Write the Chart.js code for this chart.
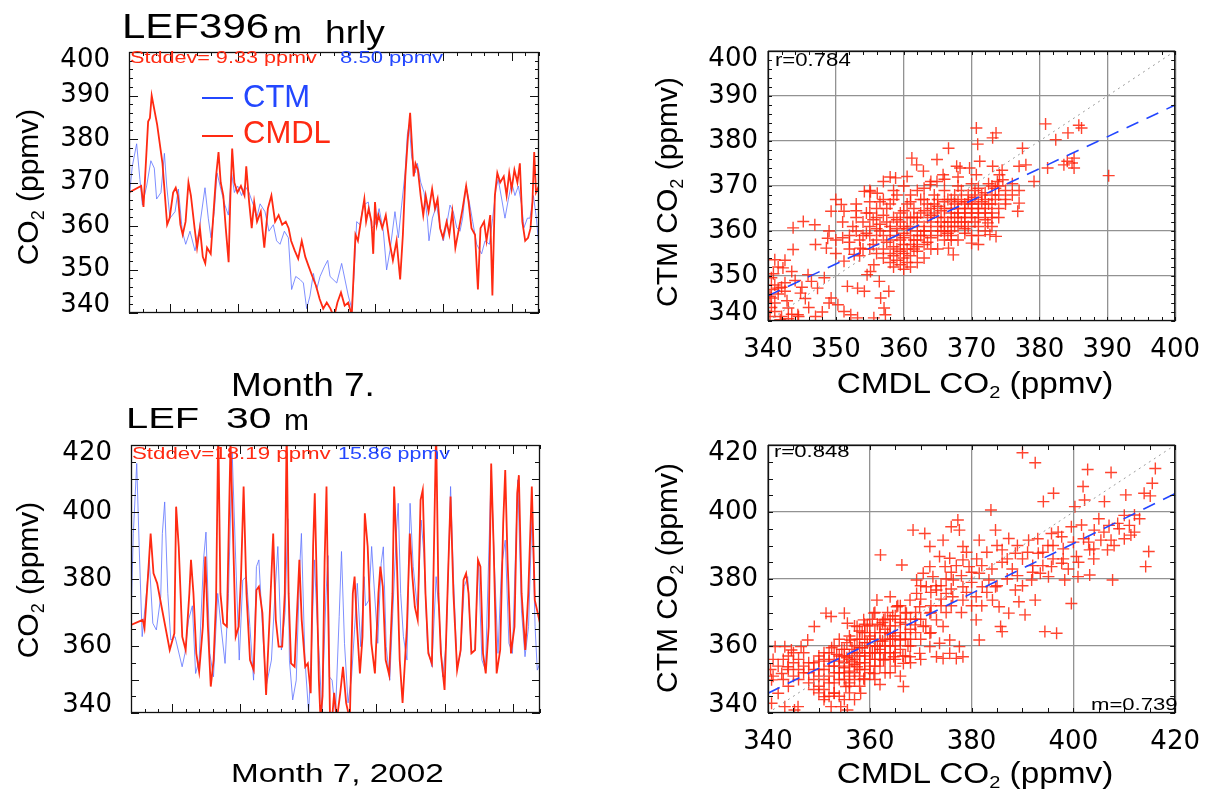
<!DOCTYPE html>
<html>
<head>
<meta charset="utf-8">
<script src="https://cdn.jsdelivr.net/npm/chart.js@4.4.1/dist/chart.umd.min.js"></script>
<style>
  body { margin: 0; background: #fff; width: 1214px; height: 794px; position: relative; overflow: hidden;
         font-family: 'Liberation Sans', Arial, sans-serif; color: #000; }
  canvas { position: absolute; }
  .t { position: absolute; white-space: nowrap; line-height: 1; transform-origin: 0 0; }
  .c { position: absolute; white-space: nowrap; line-height: 1; }
  .rot { position: absolute; white-space: nowrap; line-height: 1; font-size: 30px;
         transform: translate(-50%, -50%) rotate(-90deg); }
  .s { font-size: 60%; vertical-align: -0.28em; }
  .red { color: #ff2a12; }
  .blue { color: #2347ff; }
  .dash { position: absolute; height: 2px; width: 31px; }
</style>
</head>
<body>
<canvas id="cTL" width="560" height="340" style="left:0;top:0"></canvas>
<canvas id="cBL" width="560" height="400" style="left:0;top:360px"></canvas>
<canvas id="cTR" width="614" height="400" style="left:600px;top:0"></canvas>
<canvas id="cBR" width="614" height="394" style="left:600px;top:400px"></canvas>

<!-- top left titles -->
<div class="t" style="left:122px;top:8.4px;font-size:35px;transform:scaleX(1.2)">LEF396</div>
<div class="t" style="left:273px;top:16.8px;font-size:31px;transform:scaleX(1.12)">m</div>
<div class="t" style="left:325px;top:16.8px;font-size:31px;transform:scaleX(1.2)">hrly</div>
<div class="t red" style="left:130px;top:49.6px;font-size:16px;transform:scaleX(1.35)">Stddev= 9.33 ppmv</div>
<div class="t blue" style="left:340px;top:49.6px;font-size:16px;transform:scaleX(1.38)">8.50 ppmv</div>
<div class="dash" style="left:202px;top:97px;background:#2347ff"></div>
<div class="t blue" style="left:243px;top:80.8px;font-size:31px">CTM</div>
<div class="dash" style="left:202px;top:135px;background:#ff2a12"></div>
<div class="t red" style="left:243px;top:116.8px;font-size:31px">CMDL</div>
<div class="rot" style="left:30px;top:187px">CO<span class="s">2</span> (ppmv)</div>

<!-- bottom left titles -->
<div class="t" style="left:231px;top:368.1px;font-size:33px;transform:scaleX(1.12)">Month 7.</div>
<div class="t" style="left:126px;top:402.6px;font-size:30px;transform:scaleX(1.33)">LEF</div>
<div class="t" style="left:226px;top:402.6px;font-size:30px;transform:scaleX(1.36)">30</div>
<div class="t" style="left:284px;top:404.6px;font-size:30px">m</div>
<div class="t red" style="left:132px;top:445px;font-size:17px;transform:scaleX(1.31)">Stddev=18.19 ppmv</div>
<div class="t blue" style="left:338px;top:445px;font-size:17px;transform:scaleX(1.26)">15.86 ppmv</div>
<div class="rot" style="left:30px;top:580px">CO<span class="s">2</span> (ppmv)</div>
<div class="t" style="left:231px;top:760px;font-size:26px;transform:scaleX(1.28)">Month 7, 2002</div>

<!-- scatter titles -->
<div class="t" style="left:775px;top:51px;font-size:18px;transform:scaleX(1.23)">r=0.784</div>
<div class="rot" style="left:669px;top:192px">CTM CO<span class="s">2</span> (ppmv)</div>
<div class="c" style="left:975px;top:368.5px;font-size:29px;transform:translateX(-50%) scaleX(1.15)">CMDL CO<span class="s">2</span> (ppmv)</div>
<div class="t" style="left:774px;top:442.9px;font-size:17px;transform:scaleX(1.3)">r=0.848</div>
<div class="t" style="left:1091px;top:696.3px;font-size:17px;transform:scaleX(1.3)">m=0.739</div>
<div class="rot" style="left:669px;top:578px">CTM CO<span class="s">2</span> (ppmv)</div>
<div class="c" style="left:975px;top:758.5px;font-size:29px;transform:translateX(-50%) scaleX(1.15)">CMDL CO<span class="s">2</span> (ppmv)</div>

<script>
// hourly CO2 at LEF, July 2002 — [day, ppmv] vertices
const cmdlTop = [[0,367.7],[0.89,369.2],[1.06,364.4],[1.4,384],[1.53,384.8],[1.66,390],[2.06,383.3],[2.45,374.4],[2.79,360.3],[2.97,361.8],[3.23,367.7],[3.42,368.8],[3.58,367],[3.76,360.3],[3.93,358],[4.14,361],[4.35,370],[4.53,367],[4.8,359.5],[4.98,355],[5.19,359.5],[5.4,352.9],[5.58,351.4],[5.71,355],[5.98,353.6],[6.19,363.3],[6.37,371.4],[6.55,377],[6.71,370],[6.9,367],[7.08,359.5],[7.29,351.7],[7.42,367],[7.55,377.8],[7.71,370],[7.93,367.7],[8.19,369.2],[8.45,367],[8.58,373.7],[8.79,365.5],[8.98,359.5],[9.16,365.5],[9.37,361],[9.64,363.3],[9.9,355],[10.16,364],[10.42,367],[10.69,361],[10.95,362.5],[11.21,360.3],[11.47,361],[11.68,359.5],[11.86,356.6],[12.12,354.4],[12.38,352.5],[12.64,356.6],[12.9,352.9],[13.16,350.6],[13.42,348.4],[13.69,346.2],[13.95,343.2],[14.21,341],[14.47,342.4],[14.74,341],[15.0,339],[15.25,342.4],[15.51,344.7],[15.78,341.7],[16.04,342.4],[16.3,339.5],[16.43,348.4],[16.57,358],[16.75,356.6],[16.96,361],[17.22,366.2],[17.35,361],[17.54,364],[17.74,361],[17.87,353.6],[18.0,365.5],[18.13,360.3],[18.26,362.5],[18.53,359.5],[18.79,362.5],[19.05,356.6],[19.31,352.1],[19.58,356.6],[19.84,347.7],[20.04,358],[20.22,371.4],[20.41,380.4],[20.57,386],[20.7,378.9],[20.83,371.4],[20.96,374.4],[21.14,372.9],[21.34,367],[21.53,362.5],[21.71,367],[21.92,363.3],[22.18,368.5],[22.39,364],[22.58,366.2],[22.76,359.5],[22.97,357.3],[23.24,361],[23.44,358],[23.66,363.3],[23.88,355],[24.15,359.5],[24.41,364],[24.67,369.2],[24.85,365.5],[25.06,359.5],[25.32,358],[25.53,345.4],[25.72,359.5],[25.98,361],[26.16,356.6],[26.43,362.5],[26.59,344],[26.77,367],[26.95,372.2],[27.16,370],[27.42,371.4],[27.63,367],[27.82,372.2],[28.0,368.5],[28.2,372.9],[28.42,370],[28.6,374.4],[28.78,361],[28.99,356.6],[29.2,357.3],[29.38,359.5],[29.52,365.5],[29.65,377],[29.78,367.7],[30,369.2]];

const ctmTop = [[0,366],[0.24,373.7],[0.56,378.9],[0.8,370.7],[0.98,364.8],[1.29,369.2],[1.6,375],[1.85,373.3],[2.02,366.2],[2.34,367.7],[2.59,376.7],[2.76,369.2],[3.0,361.8],[3.37,363.3],[3.61,368.5],[3.9,358.8],[4.15,355.8],[4.46,358.8],[4.83,354.3],[5.12,358.8],[5.56,368.8],[5.8,361.8],[6.0,357.3],[6.24,363.3],[6.44,372.2],[6.78,367.7],[7.02,364.8],[7.27,362.5],[7.51,372.2],[7.71,367.7],[7.95,369.2],[8.24,367],[8.49,369.2],[8.78,367.7],[9.1,364.8],[9.34,361.8],[9.59,365.1],[9.95,363.3],[10.24,358.8],[10.56,360.3],[10.8,356.6],[11.05,355.8],[11.37,358.8],[11.66,357.3],[11.9,345.4],[12.2,348.4],[12.51,347.7],[12.76,346.9],[13.0,341],[13.24,343.9],[13.49,349.1],[13.73,345.4],[13.98,348.4],[14.29,350.6],[14.54,352.1],[14.71,348.4],[15.2,346.9],[15.56,351.4],[16.05,343.9],[16.3,341],[16.46,348.4],[16.66,361],[16.9,360.3],[17.15,364.8],[17.51,365.5],[17.76,359.5],[18.0,360.3],[18.3,364],[18.61,358.8],[18.85,349.9],[19.1,354.4],[19.46,363.3],[19.71,357.3],[19.95,364.8],[20.2,372.2],[20.37,381.1],[20.51,383.3],[20.68,375.9],[20.93,372.2],[21.1,374.4],[21.35,370],[21.59,367.7],[21.83,361.8],[21.95,356.6],[22.2,361.8],[22.51,364.8],[22.75,360],[23.0,356.6],[23.24,360.3],[23.49,364.8],[23.73,363.3],[23.98,359.6],[24.22,358.8],[24.41,361.8],[24.66,369.2],[24.9,365.5],[25.15,361],[25.44,355.8],[25.8,353.6],[26.05,356.6],[26.37,355.8],[26.61,361.8],[26.85,368.5],[27.02,370.7],[27.27,366.2],[27.51,361.8],[27.75,366],[28.0,370],[28.24,367],[28.49,369.2],[28.73,364.8],[28.9,359.6],[29.15,361.8],[29.34,361.8],[29.59,367],[29.8,362],[30,355]];

const cmdlBot = [[0,366.3],[0.86,367.8],[0.99,365.3],[1.26,381.7],[1.44,393.6],[1.65,381.7],[1.92,378.7],[2.84,358.8],[3.18,363.8],[3.31,401.6],[3.5,389.7],[3.76,362.8],[4.01,358.8],[4.28,375.7],[4.4,385.7],[4.58,375.7],[4.79,357.8],[5.0,352.3],[5.27,365.8],[5.45,386.7],[5.64,365.8],[5.85,347.9],[6.06,355.8],[6.24,373.7],[6.4,425],[6.56,375.7],[6.77,366.8],[7.03,365.8],[7.3,421],[7.47,395.6],[7.68,362.8],[7.9,365.8],[8.07,380.7],[8.26,407.6],[8.47,375.7],[8.73,355.8],[9.0,352.8],[9.2,376.7],[9.38,377.7],[9.64,369.8],[9.91,345.4],[10.17,368.8],[10.43,393.6],[10.62,367.8],[10.83,359.8],[11.09,359.8],[11.28,375.7],[11.42,425],[11.56,375.7],[11.74,354.8],[12.0,353.8],[12.35,385.7],[12.52,367.8],[12.78,353.8],[12.97,354.8],[13.18,345.9],[13.36,390],[13.48,405.6],[13.62,380],[13.78,350],[13.9,338],[14.05,345],[14.2,385],[14.34,407.6],[14.45,375],[14.6,338],[14.75,338],[14.9,346],[15.1,338],[15.35,346],[15.55,353.8],[15.78,343],[16.05,338],[16.27,375.7],[16.4,380.7],[16.58,365.8],[16.79,351.8],[16.98,362.8],[17.15,399.6],[17.36,389.7],[17.63,360.8],[17.89,351.8],[18.15,375.7],[18.29,383.7],[18.47,377.7],[18.68,355.8],[18.94,351.3],[19.18,375.7],[19.3,407.6],[19.5,385.7],[19.71,355.8],[19.92,343],[20.24,365.8],[20.45,393.6],[20.64,380.7],[20.82,371.7],[21.03,367.8],[21.24,403.6],[21.4,406.6],[21.6,375.7],[21.81,357.8],[22.07,354.8],[22.38,425],[22.55,375.7],[22.73,357.8],[23.0,346.9],[23.26,381.7],[23.44,404.6],[23.65,375.7],[23.92,352.8],[24.18,358.8],[24.39,379.7],[24.58,381.7],[24.76,375.7],[24.97,357.8],[25.24,358.8],[25.45,385.7],[25.63,383.7],[25.82,357.8],[26.02,351.8],[26.24,365.8],[26.42,414.5],[26.6,389.7],[26.82,351.8],[27.08,358.8],[27.3,396.6],[27.45,412.5],[27.62,385.7],[27.87,357.8],[28.13,365.8],[28.33,405.6],[28.45,411],[28.65,375.7],[28.92,358.8],[29.14,375.7],[29.4,407.6],[29.62,373.7],[30,366.8]];

const ctmBot = [[0,367.8],[0.17,393.6],[0.42,414.5],[0.6,389.7],[0.82,362.8],[1.13,375.7],[1.34,385.7],[1.6,366.8],[1.86,364.8],[2.18,374.7],[2.3,393.6],[2.47,403],[2.7,375.7],[2.92,361.8],[3.23,362.8],[3.75,353.8],[3.96,357.8],[4.22,367.8],[4.5,372],[4.74,351.8],[5.0,355.8],[5.32,385.7],[5.5,394],[5.78,357.8],[6.05,350.8],[6.36,375.7],[6.63,364.8],[6.9,354.8],[7.15,375.7],[7.42,418],[7.68,385.7],[7.94,355.8],[8.2,379.7],[8.46,380.7],[8.72,365.8],[8.99,349.8],[9.2,383.7],[9.38,385.7],[9.64,365.8],[9.91,347.9],[10.3,355.8],[10.56,375.7],[10.77,389.7],[11.03,358.8],[11.3,370],[11.5,398],[11.62,355.8],[11.86,343.9],[12.12,349.8],[12.38,383.7],[12.5,393.6],[12.76,355.8],[13.03,340],[13.25,360],[13.45,385.7],[13.65,368],[13.82,355.8],[14.0,340],[14.3,375],[14.45,387],[14.55,350.8],[14.75,349.8],[15.0,340],[15.27,368.8],[15.44,388.2],[15.66,360.8],[15.92,343],[16.18,350.8],[16.4,365],[16.6,378.7],[16.85,359.8],[17.1,380.7],[17.2,372],[17.45,373.7],[17.65,389.7],[17.85,376.7],[18.1,360.8],[18.35,384.7],[18.51,389.6],[18.72,359.8],[18.98,349.8],[19.2,369.8],[19.46,393.6],[19.6,402.6],[19.78,375.7],[19.98,362.8],[20.24,355.8],[20.47,402.6],[20.7,383.7],[21.02,370.7],[21.28,397.6],[21.48,387.7],[21.75,359.8],[22.07,353.8],[22.38,380.7],[22.6,369.8],[22.86,350.8],[23.12,360.8],[23.44,407.6],[23.65,380.7],[23.92,353.8],[24.17,357.8],[24.44,377.7],[24.7,380.7],[24.96,357.8],[25.22,358.8],[25.48,385.7],[25.74,355.8],[26.0,352.8],[26.42,412.5],[26.66,383.7],[26.92,357.8],[27.18,383.7],[27.45,391.6],[27.72,360.8],[27.98,357.8],[28.19,385.7],[28.37,409.6],[28.64,370.7],[28.9,356.8],[29.16,365.8],[29.42,400.6],[29.64,365.8],[29.8,352.8],[30,355]];

// CMDL (x) vs CTM (y) hourly pairs
const scatTop = [[390.2,372.3],[380.9,383.8],[382.4,380.3],[384.2,381.8],[385.8,383.5],[386.2,382.9],[370.7,382.9],[370.9,379.3],[373.6,381.8],[373.1,380.7],[377.5,378.4],[377,374.4],[378,374.7],[379.2,371],[381.2,374],[383.6,374.7],[384.1,375.5],[384.8,375.1],[385.1,376.2],[385.1,374],[377,366.2],[376.8,364.4],[366.6,378.4],[364.9,375.9],[361.2,376.2],[361.9,374.7],[362.9,373.3],[358.8,371.8],[360.5,372.1],[354.2,368.8],[355.1,368.7],[356.1,368.4],[350,367],[350.8,365.9],[351.2,364.4],[349.3,364.4],[345.2,362.1],[343.7,360.7],[346.9,361.4],[343.7,355.9],[348.8,358.4],[348.6,356.2],
  [341,353.6],[342.2,351.8],[340.5,349.6],[341.5,347.3],[342.5,346.6],[340.5,345.1],[343,342.9],[341,342.1],[344.4,341.4],[345.9,350.3],[346.4,348.8],[348.3,349.6],[347.3,347.3],[349.3,345.1],[350.3,343.6],[351.2,342.1],[352.2,341.4],[353.2,340.7],[351.7,347.7],[353.2,347.3],[354.2,346.6],[354.6,350.3],[355.1,351],[355.6,352.5],[356.4,348.8],[356.6,345.1],[357.1,342.9],[357.8,346.6],[357.3,341.4],[355.6,340.7],[351.2,353.3],[352.7,354.8],[353.6,356.2],
  [340.5,347],[341,348],[341.5,346],[342,347.5],[342.5,348.5],[341,344],[340.5,343],[342,341],[343,340.5],[343.5,341.5],[344.5,341],[340.8,350.5],[341.5,352],[342.5,353.5],[343.5,351],[344,349],[345,347.5],[345.5,345],[346,343],[347,341],[348,342],[349,344],[340.3,341],[340.3,345.5],[341.8,340.3],[344.8,346.2],[342.8,344.5],
  [372.7,359.2],[373.6,358.8],[372.4,361.8],[370,357.3],[367.3,354.7],[366.6,356.2],
  [374.1,372.5],[374.6,371.4],[373.8,371],[373.1,374.4],[371.2,375.5],[370.7,372.5],[369.7,374],[368.3,374],[367.8,374.4],[365.8,372.5],[364.9,371],[363.9,370.3],[374.5,373.5],[373.5,369.5],[372.5,370.5],
  [353,360],[353.5,358],[354,362],[354.5,364],[355,359],[355,361],[355.5,357],[356,363],[356,365],[353,363],[354,356],[352.5,361],[353,366],[355,366.5],[356.5,360],[356,358],
  [357,356],[357,359],[357.5,362],[357.5,365],[358,355],[358,358],[358,361],[358.5,363],[358.5,367],[359,356],[359,359],[359,360.5],[359.5,362],[359.5,364],[360,355],[360,357],[360,358.5],[360,361],[360.5,363],[360.5,366],[359,353.5],[360,354],[361,354.5],[360.5,353],[359.5,355.5],[361.5,356],[358.5,354.5],
  [361,357],[361,359],[361,361],[361.5,363],[361.5,365],[362,358],[362,360],[362,362],[362.5,364],[362.5,367],[363,357],[363,359],[363,361],[363.5,363],[363.5,366],[364,360],[364,362],[364.5,364],[364.5,368],[365,359],[365,361],[365,363],[365,365.5],[364,356],
  [366,361],[366,363],[366,365],[366.5,367],[367,360],[367,362],[367,364],[367.5,366],[367.5,368],[368,361],[368,363],[368,365],[368.5,367],[368.5,369],[369,362],[369,364],[369,366],[369.5,368],[370,363],[370,365],[370,367],[370.5,369],[371,364],[371,366],[371.5,368],[372,365],[372,367],[373,366],[373,368],[374,370],
  [355,369],[357,371],[358,372],[360,370],[362,369],[364,371],[366,371.5],[368,372],[351,362],[352,359],[350,358],[349,360],[347,357],[350,355],[352,356],[366,358],[368,358],[370,359],[371,361],[372,360],[373,361],[371,357],[374,363],[375,366],[376,368],[375,369],[376,370.5],[377,369],[363,354],[365,356],[362,355.5],[367,358],[369,359.5],
  [354.5,359.5],[355.5,362.5],[356.5,361.5],[357,363.5],[357.5,357.5],[358,360],[358.5,356.5],[359,362.5],[359.5,358],[360,359.5],[360.5,360.5],[360.5,356],[361,363],[361.5,358],[362,356.5],[362.5,359],[363,360],[363,364.5],[363.5,357.5],[364,358.5],[364,363.5],[364.5,366],[365.5,360],[365.5,362],[365.5,364.5],[366,366.5],[366.5,359.5],[366.5,362],[367,365],[367,367],[367.5,361],[367.5,363],[368,364],[368,366.5],[368.5,362],[369,363],[369,365],[369.5,366.5],[369.5,361],[370,364],[370,366],[370.5,362],[370.5,367.5],[371,365],[371,363],[371.5,366.5],[372,364],[372,368.5],[372.5,366],[373,364],[373.5,367],[372,362.5],[357,354],[358,353],[359.5,352.5],[361,352],[360,351.5],[358.5,352],[362,353],[356,355],[355,356],[353.5,354.5],[352,357.5],[351,358.5],[354,359],[356,360.5],[353,364.5],[355,364],[357,367],[359,368],[361,366.5],[363,367],[365,367],[368,370],[370,370.5],[371,369.5],[361,368],[363,369.5],[366,369],[358.5,369],[356.5,366.5],[364,365],[362,363],[360,364.5],[358,366],[366,360],[367,359],[369,360.5],[371,359],[373,363],[374,365],[375,367],[374,368],[373,370]];

const scatBot = [[390,417.7],[392.5,414.7],[402.8,412.7],[407.4,411.8],[416.1,413],[415.5,408.6],[415.1,404.8],[401.9,407.6],[402.2,403.6],[400.3,401.6],[396.1,405.6],[394.1,403.1],[406.1,403.1],[410.3,405.1],[413.9,405.6],[412,399.1],[408.7,396.6],[411.3,393.1],[414.8,388.2],[414.2,383.7],[407.7,379.7],[403.2,381.2],[399.6,372.7],[396.7,363.8],[394.4,364.3],[385.7,365.8],[386,364.3],[381.5,361.8],[380.9,367.8],[389.3,373.2],[390.5,369.3],[383.8,400.6],[377.3,397.6],[377.6,394.6],[376,395.6],[368.5,394.6],[370.8,393.6],[362.1,387.2],[366.3,384.2],[366.6,347.9],
  [371.8,389.7],[374.4,391.6],[378.3,389.7],[381.5,391.6],[384.7,394.6],[387.3,392.1],[391.2,391.6],[388.6,387.7],[386,388.7],[393.1,387.7],[395.7,393.6],[397.7,392.6],[399.6,395.6],[401.6,396.1],[404.1,394.6],[405.4,391.6],[407.4,391.6],[406.7,388.7],[403.2,388.7],[400.6,386.7],[397.7,384.7],[395.7,383.7],[393.5,381.7],[391.8,379.7],[400.9,380.7],[398.3,379.7],[395.1,380.7],[392.5,373.7],[388.6,376.7],[384.7,377.7],[383.4,379.7],[381.5,381.7],[379.5,383.7],[378.3,385.7],[375.7,386.2],[373.7,386.7],[371.8,383.7],[370.5,381.7],[369.2,379.7],[372.4,380.7],[374.8,383.7],[376.4,379.7],[378.3,377.7],[380.9,374.7],[382.1,377.7],[384.1,373.7],[385.4,371.7],[387.3,369.8],[378.3,373.7],[376.3,374.7],[375,375.7],[373.1,376.7],[371.1,377.7],[369.2,375.7],[367.9,373.7],[367.2,369.8],[369.8,371.7],[371.8,369.8],[373.1,367.8],[374.4,365.8],[371.8,363.8],[370.5,365.8],[368.9,366.3],[375.7,361.8],[377.6,359.8],[373.7,360.8],[371.8,359.8],[369.8,357.8],[367.9,356.8],[374.4,356.3],[377,356.3],[378.3,356.8],[373.1,356.8],[375.7,357.8],[366,361.8],[364,363.8],[362.7,367.8],[365.3,371.7],[364,374.7],[361.4,373.7],[360.8,369.8],[358.8,367.8],[357.5,365.8],[356.2,361.8],[355,369.8],[355.6,366.8],[352.4,368.8],[351.4,369.8],[349.1,365.8],[347.8,361.8],[346.5,359.8],[344.6,358.8],[343.3,359.8],[341.4,359.8],[343.9,353.8],[342.7,351.8],[340.7,349.9],[342,345.9],[340.7,342.9],[343.3,341.9],[345.9,341.9],[345.2,340.9],[351.1,344.9],[352.4,341.9],[354.3,341.9],[355.6,340.9],[353,345.9],[355.3,347.9],[357.5,353.8],[358.8,350.2],[360.8,351.8],[358.2,345.9],[362.7,355.8],[364.7,356.8],[366.6,354.8],
  [348,352],[349,355],[350,357],[350,353],[351,350],[351,356],[352,354],[352,358],[353,352],[353,356],[353,360],[354,350],[354,354],[354,357],[354,362],[355,352],[355,355],[355,359],[356,351],[356,354],[356,357],[356,363],[357,350],[357,356],[357,360],[357,366],[358,353],[358,357],[358,362],[359,355],[359,358],[359,364],[360,352],[360,356],[360,360],[360,366],[361,354],[361,358],[361,362],[361,370],[362,356],[362,359],[362,364],[363,352],[363,358],[363,362],[363,368],[364,356],[364,360],[364,366],[365,354],[365,358],[365,363],[365,369],[366,359],[366,364],[366,372],[367,357],[367,362],[368,365],[368,360],[349,350],[347,354],[346,356],[345,355],[344,357],[346,353],[348,349],[350,348],[352,349],[353,346],[354,345],[355,344],[352,345],[351,347],[356,348],[357,344],
  [355.5,356.5],[356.5,355.5],[357.5,358],[358.5,359.5],[359.5,361],[360.5,358],[361.5,360],[362.5,361.5],[363.5,364],[364.5,362],[358,364.5],[359,366.5],[360,363],[362,366],[364,368],[366,367],[367,370],[369,368],[370,374],[372,372],[374,378],[376,377],[378,381],[380,379],[382,384],[384,383],[386,385],[388,383],[390,386],[392,384],[394,388],[396,390],[398,389],[400,391],[402,392],[404,386],[405,398],[409,395],[410,399],[412,394],
  [349,353],[350,351],[350,355.5],[351,353],[351,358],[352,351],[352,355.5],[352.5,359.5],[353,349],[353,354],[353.5,357.5],[354,352],[354,355.5],[354.5,359],[355,350],[355,353.5],[355,357],[355.5,361],[356,349],[356,352.5],[356,356],[356.5,359],[357,352],[357,354.5],[357,358],[357.5,362],[358,351],[358,355],[358,359.5],[358.5,364],[359,353],[359,357],[359,361],[359.5,366],[360,354],[360,358],[360,362],[360.5,368],[361,356],[361,360],[361,364],[361.5,366.5],[362,354],[362,358],[362,361.5],[362.5,367],[363,356],[363,360],[363,365],[363.5,370],[364,358],[364,362],[364,364],[364.5,369],[365,356],[365,360],[365,366],[365.5,372],[366,362],[366,368],[366.5,357],[367,364],[367,366.5],[367.5,360],[368,362],[368,368],[369,364],[369,370],[370,362],[370,368],[371,366],[372,370],[372,364],[374,372],[375,370],[376,372],[378,370],[379,376],[380,372],[382,372],[383,376],[385,378],[387,380],[389,381],[390,378],[392,382],[394,384],[396,386],[398,386],[399,383],[401,385],[403,391],[404,389],[406,394],[407,396],[408,390],[410,392],[411,396],[413,398],[397,394],[395,390],[393,392],[391,388],[389,390],[387,386],[385,390],[383,388],[381,386],[379,388],[377,384],[375,380],[373,378],[376,382],[370,378],[372,376],[374,374],[380,382],[344,353],[345,351],[346,350],[347,352],[348,355],[347,358],[345,358],[343,356],[342,354],[341,356],[344,348],[343,350],[341,351],[340.5,353],[350,346],[351,344],[349,347],[356,346],[358,348],[359,350],[361,350],[362,348.5],[364,352],[366,351],[368,355],[370,356]];

// least-squares fits (blue dashed) and 1:1 lines (grey dotted)
const fitTop = [[340,345.6],[400,388.0]];
const fitBot = [[340,345.9],[420,405.5]];
const oneTop = [[340,340],[400,400]];
const oneBot = [[340,340],[420,420]];

// tick labels
const tsTopTicks = [340,350,360,370,380,390,400];
const tsBotTicks = [340,360,380,400,420];
const scTopTicks = [340,350,360,370,380,390,400];
const scBotTicks = [340,360,380,400,420];

const RED = '#ff2a12';
const BLUE_LINE = 'rgba(95,115,255,0.8)';
const tickFont = { family: "'DejaVu Sans'", size: 26 };
// end labels sit inside the box, as IDL draws them (second empty line pushes them in)
const yTickFont = { family: "'DejaVu Sans'", size: 26, lineHeight: '16px' };
const insetLabel = (v, i, arr) => i === arr.length - 1 ? ['', String(v)] : (i === 0 ? [String(v), ''] : String(v));

const pts = arr => arr.map(([x, y]) => ({ x, y }));

// box round the plot + IDL style inward ticks on all four sides
const frameTicks = {
  id: 'frameTicks',
  afterDatasetsDraw(chart, args, o) {
    const { ctx, chartArea: a } = chart;
    const xs = chart.scales.x, ys = chart.scales.y;
    ctx.save();
    ctx.strokeStyle = '#111';
    ctx.lineWidth = 1;
    ctx.beginPath();
    (o.x || []).forEach(([start, step, len]) => {
      for (let v = start; v <= xs.max + 1e-6; v += step) {
        const p = Math.round(xs.getPixelForValue(v)) + 0.5;
        ctx.moveTo(p, a.bottom); ctx.lineTo(p, a.bottom - len);
        ctx.moveTo(p, a.top); ctx.lineTo(p, a.top + len);
      }
    });
    (o.y || []).forEach(([start, step, len]) => {
      for (let v = start; v <= ys.max + 1e-6; v += step) {
        const p = Math.round(ys.getPixelForValue(v)) + 0.5;
        ctx.moveTo(a.left, p); ctx.lineTo(a.left + len, p);
        ctx.moveTo(a.right, p); ctx.lineTo(a.right - len, p);
      }
    });
    ctx.stroke();
    ctx.lineWidth = 1.3;
    ctx.strokeRect(a.left + 0.5, a.top + 0.5, a.width - 1, a.height - 1);
    ctx.restore();
  }
};

function seriesChart(id, red, blue, yTicks, pad, yWidth, tickOpts) {
  return new Chart(document.getElementById(id), {
    type: 'scatter',
    data: {
      datasets: [
        { data: pts(red), showLine: true, borderColor: RED, borderWidth: 1.8, pointRadius: 0, order: 0, clip: 0 },
        { data: pts(blue), showLine: true, borderColor: BLUE_LINE, borderWidth: 1, pointRadius: 0, order: 1, clip: 0 }
      ]
    },
    options: {
      responsive: false, animation: false, events: [], devicePixelRatio: 1,
      layout: { padding: pad },
      plugins: { legend: { display: false }, tooltip: { enabled: false }, frameTicks: tickOpts },
      scales: {
        x: { type: 'linear', min: 0, max: 30, display: false },
        y: {
          min: yTicks[0], max: yTicks[yTicks.length - 1],
          afterBuildTicks: s => { s.ticks = yTicks.map(v => ({ value: v })); },
          afterFit: s => { s.width = yWidth; },
          grid: { display: false }, border: { display: false },
          ticks: { font: yTickFont, color: '#000', padding: 11, callback: insetLabel }
        }
      }
    },
    plugins: [frameTicks]
  });
}

function scatterChart(id, cloud, fit, one, ticks, pad, tickOpts) {
  const axis = (extra) => Object.assign({
    min: ticks[0], max: ticks[ticks.length - 1],
    afterBuildTicks: s => { s.ticks = ticks.map(v => ({ value: v })); },
    grid: { color: '#929292', lineWidth: 1.3, drawTicks: false },
    border: { display: false }
  }, extra);
  return new Chart(document.getElementById(id), {
    type: 'scatter',
    data: {
      datasets: [
        { data: pts(fit), showLine: true, borderColor: '#2346ff', borderWidth: 1.6, borderDash: [13, 9], pointRadius: 0, order: 0, clip: 0 },
        { data: pts(one), showLine: true, borderColor: '#9c9c9c', borderWidth: 1, borderDash: [2, 4], pointRadius: 0, order: 1, clip: 0 },
        { data: pts(cloud), pointStyle: 'cross', pointRadius: 6, borderWidth: 1.4, borderColor: 'rgba(255,35,10,0.85)', order: 2, clip: 0 }
      ]
    },
    options: {
      responsive: false, animation: false, events: [], devicePixelRatio: 1,
      layout: { padding: pad },
      plugins: { legend: { display: false }, tooltip: { enabled: false }, frameTicks: tickOpts },
      scales: {
        x: axis({ afterFit: s => { s.height = 50; }, ticks: { font: tickFont, color: '#000', padding: 14 } }),
        y: axis({ afterFit: s => { s.width = 168; }, ticks: { font: yTickFont, color: '#000', padding: 10, callback: insetLabel } })
      }
    },
    plugins: [frameTicks]
  });
}

seriesChart('cTL', cmdlTop, ctmTop, tsTopTicks, { left: 0, top: 52, right: 21, bottom: 19 }, 129,
  { x: [[0, 1, 4], [3, 5, 9]], y: [[340, 2, 4], [340, 10, 9]] });
seriesChart('cBL', cmdlBot, ctmBot, tsBotTicks, { left: 0, top: 85, right: 20, bottom: 47 }, 131,
  { x: [[0, 1, 4], [3, 5, 9]], y: [[340, 5, 5], [340, 10, 8]] });
scatterChart('cTR', scatTop, fitTop, oneTop, scTopTicks, { left: 0, top: 51, right: 35, bottom: 29 },
  { x: [[340, 2, 4]], y: [[340, 2, 4]] });
scatterChart('cBR', scatBot, fitBot, oneBot, scBotTicks, { left: 0, top: 45, right: 36, bottom: 31 },
  { x: [[340, 5, 5]], y: [[340, 5, 5]] });
</script>
</body>
</html>
